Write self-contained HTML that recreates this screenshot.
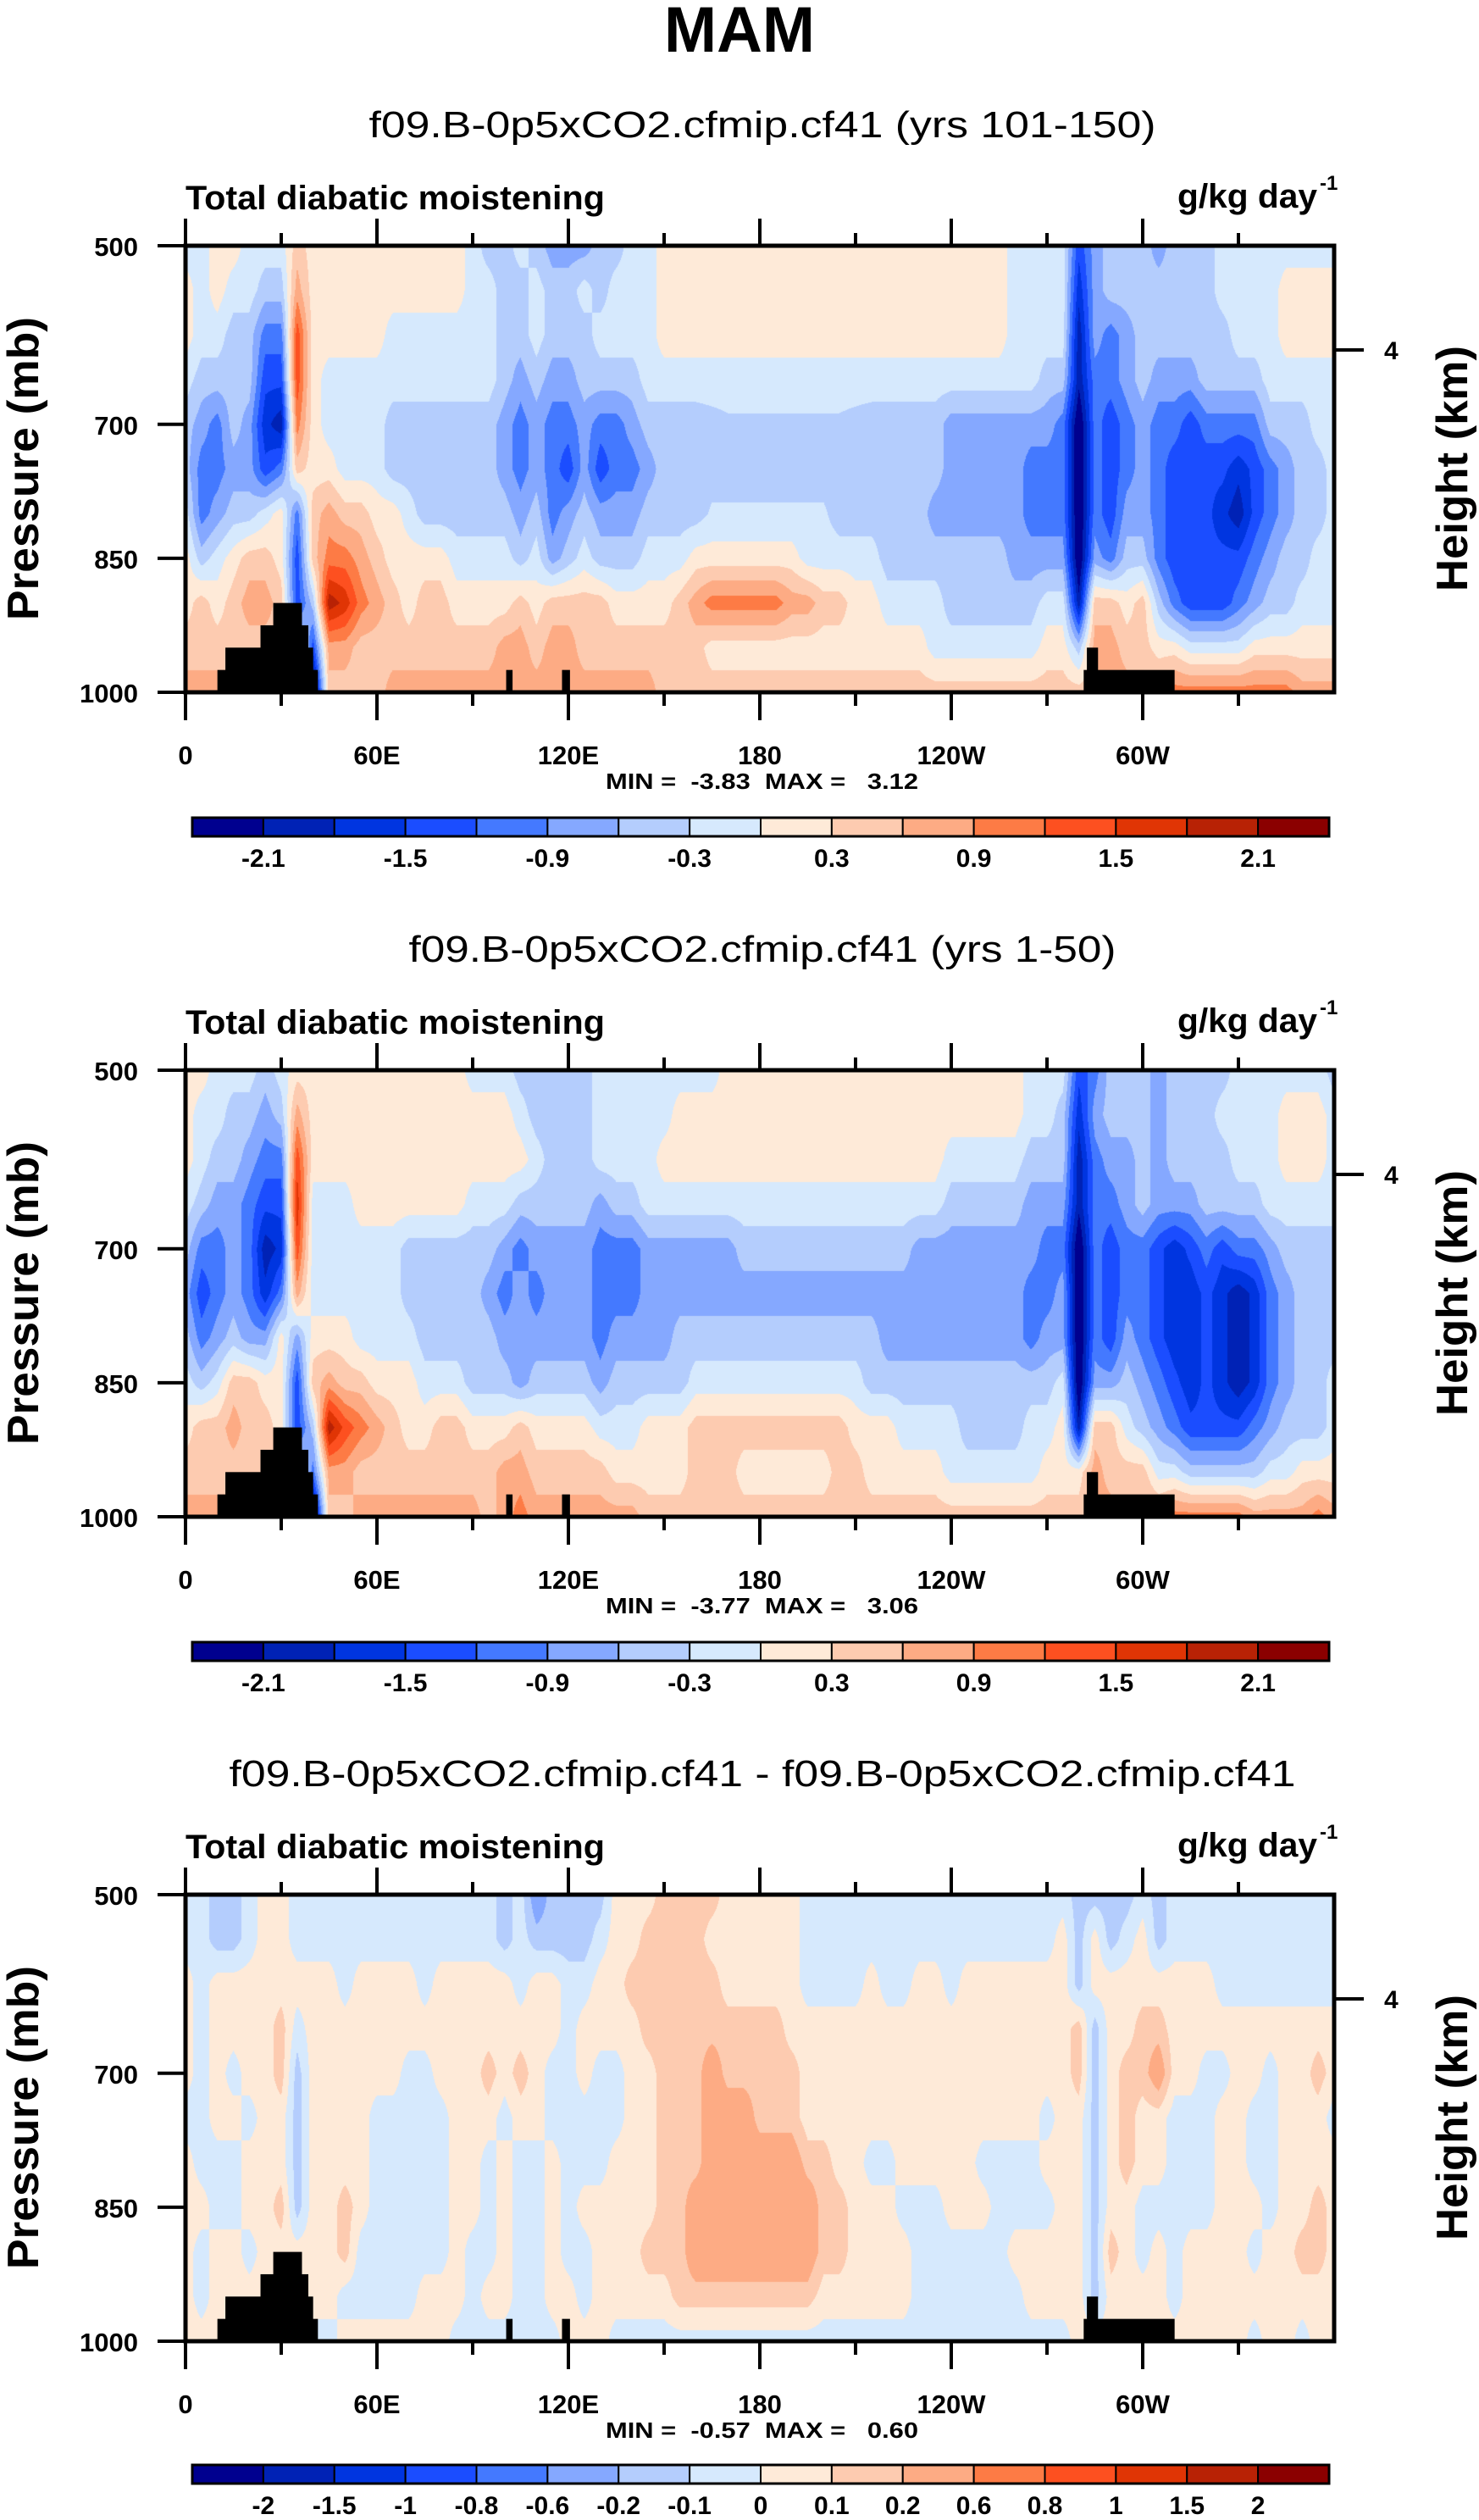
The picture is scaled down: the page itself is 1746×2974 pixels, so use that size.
<!DOCTYPE html>
<html>
<head>
<meta charset="utf-8">
<style>
html,body{margin:0;padding:0;background:#fff;}
#root{position:relative;width:1746px;height:2974px;overflow:hidden;background:#fff;}
canvas{position:absolute;}
svg{position:absolute;left:0;top:0;}
text{font-family:"Liberation Sans",Arial,sans-serif;fill:#000;}
.pre{white-space:pre;}
</style>
</head>
<body>
<div id="root">
<canvas id="cv0"></canvas>
<canvas id="cv1"></canvas>
<canvas id="cv2"></canvas>
<svg id="svg" width="1746" height="2974" xmlns="http://www.w3.org/2000/svg">
<text x="873" y="61" text-anchor="middle" font-size="76" font-weight="bold" textLength="178" lengthAdjust="spacingAndGlyphs">MAM</text>
</svg>
</div>
<script>
// ---------- axes / categories ----------
const lons = [0,5,10,15,20,25,30,35,40,45,50,55,60,65,70,75,80,85,90,95,100,105,110,115,120,125,130,135,140,145,150,155,160,165,170,175,180,185,190,195,200,205,210,215,220,225,230,235,240,245,250,255,260,265,270,275,280,285,290,295,300,305,310,315,320,325,330,335,340,345,350,355,360];
const levels = [500,550,600,650,700,750,800,850,900,950,1000];
const xTickLabels = ["0","60E","120E","180","120W","60W"];
const xTickLons = [0,60,120,180,240,300];
const yTickLabels = ["500","700","850","1000"];
const yTickValues = [500,700,850,1000];
const panelTitles = ["f09.B-0p5xCO2.cfmip.cf41 (yrs 101-150)","f09.B-0p5xCO2.cfmip.cf41 (yrs 1-50)","f09.B-0p5xCO2.cfmip.cf41 - f09.B-0p5xCO2.cfmip.cf41"];
const minVals = ["-3.83","-3.77","-0.57"];
const maxVals = ["3.12","3.06","0.60"];
const contourLevelsAbs = [-2.1,-1.8,-1.5,-1.2,-0.9,-0.6,-0.3,0,0.3,0.6,0.9,1.2,1.5,1.8,2.1];
const contourLevelsDiff = [-2,-1.5,-1,-0.8,-0.6,-0.2,-0.1,0,0.1,0.2,0.6,0.8,1,1.5,2];
const cbLabelsAbs = ["-2.1","","-1.5","","-0.9","","-0.3","","0.3","","0.9","","1.5","","2.1"];
const cbLabelsDiff = ["-2","-1.5","-1","-0.8","-0.6","-0.2","-0.1","0","0.1","0.2","0.6","0.8","1","1.5","2"];
// topography blocks: [lon start, lon end, top pressure]
const topoBlocks = [[10,41.5,975],[12.5,40,950],[23.5,38.5,925],[27.5,36.5,900],[100.5,102.5,975],[118,120.5,975],[281.5,310,975],[282.5,286,950]];

// ---------- panel 1 (yrs 101-150), rows = pressure levels, cols = lons ----------
const panel1 = [
[-0.15,-0.15,0.15,0.15,-0.15,-0.15,-0.15,0.45,0.15,0.15, 0.15,0.15,0.15,0.15,0.15,0.15,0.15,0.15,-0.15,-0.45, -0.45,-0.15,-0.45,-0.75,-0.75,-0.75,-0.45,-0.45,-0.15,-0.15, 0.15,0.15,0.15,0.15,0.15,0.15,0.15,0.15,0.15,0.15, 0.15,0.15,0.15,0.15,0.15,0.15,0.15,0.15,0.15,0.15, 0.15,0.15,-0.15,-0.15,-0.15,-0.15,-1.4,-0.75,-0.45,-0.45, -0.45,-0.75,-0.45,-0.45,-0.45,-0.15,-0.15,-0.15,-0.15,-0.15, -0.15,-0.15,-0.15],
[0.15,-0.15,0.15,-0.15,-0.15,-0.45,-0.45,0.75,0.15,0.15, 0.15,0.15,0.15,0.15,0.15,0.15,0.15,0.15,-0.15,-0.15, -0.45,-0.45,-0.15,-0.45,-0.45,-0.15,-0.45,-0.15,-0.15,-0.15, 0.15,0.15,0.15,0.15,0.15,0.15,0.15,0.15,0.15,0.15, 0.15,0.15,0.15,0.15,0.15,0.15,0.15,0.15,0.15,0.15, 0.15,0.15,-0.15,-0.15,-0.15,-0.15,-1.7,-0.75,-0.45,-0.45, -0.45,-0.45,-0.45,-0.45,-0.45,-0.15,-0.15,-0.15,-0.15,0.15, 0.15,0.15,0.15],
[0.15,-0.15,-0.15,-0.45,-0.45,-1.05,-1.05,1.4,0.15,0.15, 0.15,0.15,0.15,-0.15,-0.15,-0.15,-0.15,-0.15,-0.15,-0.15, -0.45,-0.45,-0.15,-0.45,-0.45,-0.45,-0.15,-0.15,-0.15,-0.15, 0.15,0.15,0.15,0.15,0.15,0.15,0.15,0.15,0.15,0.15, 0.15,0.15,0.15,0.15,0.15,0.15,0.15,0.15,0.15,0.15, 0.15,0.15,-0.15,-0.15,-0.15,-0.15,-2.0,-0.75,-1.05,-0.75, -0.45,-0.45,-0.45,-0.45,-0.45,-0.45,-0.15,-0.15,-0.15,0.15, 0.15,0.15,0.15],
[-0.15,-0.45,-0.45,-0.45,-0.45,-1.4,-1.4,1.4,0.15,-0.15, -0.15,-0.15,-0.15,-0.15,-0.15,-0.15,-0.15,-0.15,-0.15,-0.15, -0.45,-0.75,-0.45,-0.75,-0.75,-0.45,-0.45,-0.45,-0.45,-0.15, -0.15,-0.15,-0.15,-0.15,-0.15,-0.15,-0.15,-0.15,-0.15,-0.15, -0.15,-0.15,-0.15,-0.15,-0.15,-0.15,-0.15,-0.15,-0.15,-0.15, -0.15,-0.15,-0.15,-0.15,-0.45,-0.45,-2.0,-1.05,-1.05,-0.75, -0.45,-0.75,-0.75,-0.75,-0.45,-0.45,-0.45,-0.45,-0.15,-0.15, -0.15,-0.15,-0.15],
[-0.45,-0.75,-1.05,-0.45,-0.75,-1.7,-2.0,1.05,0.15,-0.15, -0.15,-0.15,-0.15,-0.45,-0.45,-0.45,-0.45,-0.45,-0.45,-0.45, -0.75,-1.05,-0.75,-1.05,-1.05,-0.75,-1.05,-1.05,-0.75,-0.45, -0.45,-0.45,-0.45,-0.4,-0.35,-0.35,-0.35,-0.35,-0.35,-0.35, -0.35,-0.35,-0.4,-0.45,-0.45,-0.45,-0.45,-0.45,-0.75,-0.75, -0.75,-0.75,-0.75,-0.75,-0.75,-1.05,-2.5,-1.05,-1.4,-1.05, -0.75,-1.05,-1.05,-1.4,-1.05,-1.05,-1.05,-1.05,-0.45,-0.45, -0.45,-0.15,-0.15],
[-0.45,-1.05,-1.05,-0.75,-0.75,-1.4,-1.05,0.45,0.15,0.15, -0.15,-0.15,-0.15,-0.45,-0.45,-0.45,-0.45,-0.45,-0.45,-0.45, -0.75,-1.05,-0.75,-1.05,-1.4,-0.75,-1.4,-1.05,-1.05,-0.75, -0.45,-0.45,-0.45,-0.45,-0.45,-0.45,-0.45,-0.45,-0.45,-0.45, -0.45,-0.45,-0.45,-0.45,-0.45,-0.45,-0.45,-0.45,-0.75,-0.75, -0.75,-0.75,-0.75,-1.05,-1.05,-1.05,-2.5,-1.05,-1.4,-1.05, -0.75,-1.05,-1.4,-1.4,-1.4,-1.4,-1.7,-1.4,-1.05,-0.75, -0.45,-0.45,-0.15],
[-0.15,-1.05,-0.75,-0.45,-0.45,-0.15,0.15,-1.05,0.45,0.75, 0.45,0.45,0.15,0.15,-0.15,-0.45,-0.45,-0.45,-0.45,-0.45, -0.45,-0.75,-0.45,-1.05,-0.75,-0.45,-0.75,-0.75,-0.75,-0.45, -0.45,-0.45,-0.45,-0.25,-0.25,-0.25,-0.25,-0.25,-0.25,-0.25, -0.25,-0.45,-0.45,-0.45,-0.45,-0.45,-0.45,-0.75,-0.75,-0.75, -0.75,-0.75,-0.75,-1.05,-1.05,-1.05,-2.5,-1.05,-1.4,-0.75, -0.75,-1.05,-1.4,-1.4,-1.4,-1.7,-2.0,-1.4,-1.05,-0.75, -0.45,-0.45,-0.15],
[0.15,-0.45,-0.15,0.15,0.45,0.45,0.15,-1.4,0.45,1.05, 1.05,0.75,0.45,0.15,0.15,0.15,0.15,-0.15,-0.15,-0.15, -0.15,-0.45,-0.15,-0.75,-0.45,-0.15,-0.45,-0.45,-0.45,-0.15, -0.15,-0.15,0.15,0.15,0.15,0.15,0.15,0.15,0.15,-0.15, -0.15,-0.15,-0.15,-0.15,-0.45,-0.45,-0.45,-0.45,-0.45,-0.45, -0.45,-0.45,-0.75,-0.75,-0.75,-0.75,-2.5,-0.75,-1.05,-0.45, -0.45,-1.05,-1.4,-1.4,-1.4,-1.4,-1.4,-1.05,-0.75,-0.45, -0.45,-0.15,-0.15],
[0.15,0.45,0.15,0.45,0.75,0.75,0.45,-1.4,-0.45,2.0, 1.7,1.05,0.75,0.45,0.15,0.45,0.45,0.15,0.15,0.15, 0.15,0.45,0.15,0.45,0.45,0.45,0.45,0.15,0.15,0.15, 0.15,0.45,0.75,1.05,1.05,1.05,1.05,1.05,0.75,0.75, 0.45,0.45,0.15,0.15,-0.15,-0.15,-0.15,-0.15,-0.45,-0.45, -0.45,-0.45,-0.45,-0.45,-0.15,-0.15,-2.0,0.45,0.45,0.15, 0.45,-0.45,-1.05,-1.4,-1.4,-1.4,-1.05,-0.75,-0.45,-0.45, -0.15,-0.15,-0.15],
[0.45,0.45,0.45,0.45,0.45,0.45,0.45,0.45,-1.4,0.75, 0.75,0.45,0.45,0.45,0.45,0.45,0.45,0.45,0.45,0.45, 0.75,0.75,0.45,0.75,0.75,0.45,0.45,0.45,0.45,0.45, 0.45,0.45,0.45,0.15,0.15,0.15,0.15,0.15,0.15,0.15, 0.15,0.15,0.15,0.15,0.15,0.15,0.15,-0.15,-0.15,-0.15, -0.15,-0.15,-0.15,-0.15,0.15,0.15,-0.45,0.75,0.75,0.45, 0.45,0.15,0.15,-0.15,-0.15,-0.15,-0.15,0.15,0.15,0.15, 0.15,0.15,0.15],
[0.75,0.75,0.75,0.75,0.75,0.75,0.75,0.75,-2.5,0.45, 0.45,0.45,0.45,0.75,0.75,0.75,0.75,0.75,0.75,0.75, 0.75,0.75,0.75,0.75,0.75,0.75,0.75,0.75,0.75,0.75, 0.45,0.45,0.45,0.45,0.45,0.45,0.45,0.45,0.45,0.45, 0.45,0.45,0.45,0.45,0.45,0.45,0.45,0.45,0.45,0.45, 0.45,0.45,0.45,0.45,0.45,0.45,0.45,0.45,0.75,0.75, 0.75,0.75,1.05,1.05,1.05,1.05,1.05,1.05,1.05,1.05, 0.75,0.75,0.75]
];

// ---------- panel 2 (yrs 1-50) ----------
const panel2 = [
[0.15,0.15,-0.15,-0.15,-0.15,-0.45,-0.15,0.15,0.15,0.15, 0.15,0.15,0.15,0.15,0.15,0.15,0.15,0.15,-0.15,-0.15, -0.15,-0.45,-0.45,-0.45,-0.45,-0.45,-0.15,-0.15,-0.15,-0.15, -0.15,-0.15,-0.15,-0.15,0.15,0.15,0.15,0.15,0.15,0.15, 0.15,0.15,0.15,0.15,0.15,0.15,0.15,0.15,0.15,0.15, 0.15,0.15,0.15,-0.15,-0.15,-0.15,-1.4,-1.05,-0.45,-0.45, -0.45,-0.75,-0.45,-0.45,-0.45,-0.45,-0.15,-0.15,-0.15,-0.15, -0.15,-0.15,-0.45],
[0.15,-0.15,-0.15,-0.45,-0.45,-0.75,-0.45,0.75,0.15,0.15, 0.15,0.15,0.15,0.15,0.15,0.15,0.15,0.15,0.15,0.15, 0.15,-0.15,-0.45,-0.45,-0.45,-0.45,-0.15,-0.15,-0.15,-0.15, -0.15,0.15,0.15,0.15,0.15,0.15,0.15,0.15,0.15,0.15, 0.15,0.15,0.15,0.15,0.15,0.15,0.15,0.15,0.15,0.15, 0.15,0.15,0.15,-0.15,-0.15,-0.45,-1.7,-0.75,-0.45,-0.45, -0.45,-0.75,-0.45,-0.45,-0.45,-0.15,-0.15,-0.15,-0.15,0.15, 0.15,0.15,-0.15],
[0.15,-0.15,-0.45,-0.45,-0.75,-1.05,-1.05,1.4,0.15,0.15, 0.15,0.15,0.15,0.15,0.15,0.15,0.15,0.15,0.15,0.15, 0.15,0.15,-0.15,-0.45,-0.45,-0.45,-0.15,-0.15,-0.15,-0.15, 0.15,0.15,0.15,0.15,0.15,0.15,0.15,0.15,0.15,0.15, 0.15,0.15,0.15,0.15,0.15,0.15,0.15,0.15,-0.15,-0.15, -0.15,-0.15,-0.15,-0.45,-0.45,-0.45,-2.0,-1.05,-0.75,-0.75, -0.45,-0.75,-0.45,-0.45,-0.45,-0.45,-0.15,-0.15,-0.15,0.15, 0.15,0.15,-0.15],
[-0.15,-0.45,-0.75,-0.75,-1.05,-1.4,-1.4,1.7,-0.15,-0.15, -0.15,0.15,0.15,0.15,0.15,0.15,0.15,0.15,-0.15,-0.15, -0.15,-0.45,-0.45,-0.45,-0.45,-0.45,-0.75,-0.45,-0.45,-0.15, -0.15,-0.15,-0.15,-0.15,-0.15,-0.15,-0.15,-0.15,-0.15,-0.15, -0.15,-0.15,-0.15,-0.15,-0.15,-0.15,-0.15,-0.15,-0.45,-0.45, -0.45,-0.45,-0.45,-0.75,-0.75,-0.75,-2.0,-1.05,-1.05,-0.75, -0.45,-0.75,-0.75,-0.75,-0.45,-0.45,-0.45,-0.45,-0.15,-0.15, -0.15,-0.15,-0.15],
[-0.45,-1.05,-1.05,-0.75,-1.05,-2.0,-1.7,1.4,-0.15,-0.15, -0.15,-0.15,-0.15,-0.15,-0.45,-0.45,-0.45,-0.45,-0.45,-0.45, -0.75,-1.05,-0.75,-0.75,-0.75,-0.75,-1.05,-1.05,-1.05,-0.75, -0.75,-0.75,-0.75,-0.75,-0.75,-0.45,-0.45,-0.45,-0.45,-0.45, -0.45,-0.45,-0.45,-0.45,-0.45,-0.45,-0.75,-0.75,-0.75,-0.75, -0.75,-0.75,-0.75,-0.75,-1.05,-1.05,-2.5,-1.05,-1.4,-1.05, -1.05,-1.4,-1.7,-1.4,-1.05,-1.4,-1.05,-1.05,-0.75,-0.45, -0.45,-0.45,-0.45],
[-0.75,-1.4,-1.05,-0.75,-1.05,-1.7,-1.05,0.75,-0.15,-0.15, -0.15,-0.15,-0.15,-0.15,-0.45,-0.45,-0.45,-0.45,-0.45,-0.75, -1.05,-0.75,-1.05,-0.75,-0.75,-0.75,-1.05,-1.05,-1.05,-0.75, -0.75,-0.75,-0.75,-0.75,-0.75,-0.75,-0.75,-0.75,-0.75,-0.75, -0.75,-0.75,-0.75,-0.75,-0.75,-0.75,-0.75,-0.75,-0.75,-0.75, -0.75,-0.75,-0.75,-1.05,-1.05,-0.75,-2.5,-1.05,-1.4,-1.05, -1.05,-1.4,-1.7,-1.7,-1.4,-1.7,-2.0,-1.7,-1.05,-0.75, -0.45,-0.45,-0.45],
[-0.45,-1.05,-0.75,-0.45,-0.75,-0.75,0.15,-0.75,0.15,0.15, 0.15,-0.15,-0.15,-0.15,-0.15,-0.45,-0.45,-0.45,-0.45,-0.45, -0.75,-0.75,-0.75,-0.75,-0.75,-0.75,-1.05,-0.75,-0.75,-0.75, -0.75,-0.45,-0.45,-0.45,-0.45,-0.45,-0.45,-0.45,-0.45,-0.45, -0.45,-0.45,-0.45,-0.45,-0.75,-0.75,-0.75,-0.75,-0.75,-0.75, -0.75,-0.75,-0.75,-1.05,-0.75,-0.75,-2.5,-1.05,-1.4,-0.75, -1.05,-1.4,-1.7,-1.7,-1.4,-1.7,-2.0,-1.7,-1.05,-0.75, -0.45,-0.45,-0.45],
[-0.15,-0.45,-0.15,0.45,0.45,0.15,0.15,-1.4,0.45,0.75, 0.45,0.45,0.15,0.15,0.15,-0.15,-0.15,-0.15,-0.45,-0.45, -0.45,-0.75,-0.45,-0.45,-0.45,-0.45,-0.75,-0.45,-0.45,-0.45, -0.45,-0.45,-0.15,-0.15,-0.15,-0.15,-0.15,-0.15,-0.15,-0.15, -0.15,-0.15,-0.15,-0.45,-0.45,-0.45,-0.45,-0.45,-0.45,-0.45, -0.45,-0.45,-0.45,-0.45,-0.45,-0.15,-2.5,-0.75,-0.75,-0.45, -0.75,-1.05,-1.4,-1.7,-1.4,-1.7,-2.0,-1.7,-1.05,-0.75, -0.45,-0.45,-0.15],
[0.15,0.45,0.45,0.75,0.45,0.45,0.15,-1.4,-0.45,2.0, 1.4,1.05,0.75,0.45,0.15,0.15,0.45,0.45,0.15,0.15, 0.15,0.45,0.15,0.15,0.15,0.15,-0.15,-0.15,-0.15,0.15, 0.15,0.15,0.45,0.45,0.45,0.45,0.45,0.45,0.45,0.45, 0.45,0.45,0.15,0.15,0.15,-0.15,-0.15,-0.15,-0.15,-0.45, -0.45,-0.45,-0.45,-0.15,-0.15,0.15,-2.0,0.45,0.45,-0.15, -0.45,-0.75,-1.05,-1.4,-1.4,-1.4,-1.4,-1.05,-0.75,-0.45, -0.45,-0.45,-0.15],
[0.45,0.45,0.45,0.45,0.45,0.45,0.45,0.15,-1.05,0.75, 0.75,0.45,0.45,0.45,0.45,0.45,0.45,0.45,0.45,0.45, 0.75,0.75,0.45,0.45,0.45,0.45,0.45,0.15,0.15,0.15, 0.15,0.15,0.45,0.45,0.45,0.15,0.15,0.15,0.15,0.15, 0.15,0.45,0.45,0.15,0.15,0.15,0.15,0.15,-0.15,-0.15, -0.15,-0.15,-0.15,-0.15,0.15,0.15,0.15,0.75,0.45,0.45, 0.45,-0.15,-0.15,-0.45,-0.45,-0.45,-0.45,-0.45,-0.15,-0.15, 0.15,0.15,0.15],
[0.75,0.75,0.75,0.75,0.75,0.75,0.75,0.75,-2.5,0.45, 0.45,0.75,0.75,0.75,0.75,0.75,0.75,0.75,0.75,0.45, 0.75,1.05,0.75,0.75,0.75,0.75,0.75,0.75,0.75,0.45, 0.45,0.45,0.45,0.45,0.45,0.45,0.45,0.45,0.45,0.45, 0.45,0.45,0.45,0.45,0.45,0.45,0.45,0.45,0.45,0.45, 0.45,0.45,0.45,0.45,0.45,0.45,0.45,0.75,0.75,0.75, 0.75,0.75,1.05,1.05,1.05,1.05,1.05,0.75,0.75,0.75, 0.75,1.05,0.75]
];

// ---------- panel 3 (difference) ----------
const panel3 = [
[-0.05,-0.05,-0.15,-0.15,-0.05,0.05,0.05,-0.05,-0.05,-0.05, -0.05,-0.05,-0.05,-0.05,-0.05,-0.05,-0.05,-0.05,-0.05,-0.05, -0.15,-0.05,-0.3,-0.15,-0.15,-0.15,-0.15,0.05,0.05,0.05, 0.15,0.15,0.15,0.15,0.05,0.05,0.05,0.05,0.05,-0.05, -0.05,-0.05,-0.05,-0.05,-0.05,-0.05,-0.05,-0.05,-0.05,-0.05, -0.05,-0.05,-0.05,-0.05,-0.05,-0.05,-0.15,-0.15,-0.15,-0.15, -0.05,-0.15,-0.05,-0.05,-0.05,-0.05,-0.05,-0.05,-0.05,-0.05, -0.05,-0.05,-0.05],
[-0.05,-0.05,-0.15,-0.15,-0.05,0.05,0.05,-0.05,-0.05,-0.05, -0.05,-0.05,-0.05,-0.05,-0.05,-0.05,-0.05,-0.05,-0.05,-0.05, -0.15,-0.05,-0.15,-0.15,-0.15,-0.15,-0.05,0.05,0.05,0.15, 0.15,0.15,0.15,0.05,0.05,0.05,0.05,0.05,0.05,-0.05, -0.05,-0.05,-0.05,-0.05,-0.05,-0.05,-0.05,-0.05,-0.05,-0.05, -0.05,-0.05,-0.05,-0.05,-0.05,0.05,-0.15,0.05,-0.15,-0.05, 0.05,-0.15,-0.05,-0.05,-0.05,-0.05,-0.05,-0.05,-0.05,-0.05, -0.05,-0.05,-0.05],
[0.05,-0.05,0.05,0.05,0.05,0.05,0.05,0.05,0.05,0.05, -0.05,0.05,0.05,0.05,0.05,-0.05,0.05,0.05,0.05,0.05, 0.05,-0.05,0.05,0.05,-0.05,-0.05,0.05,0.05,0.15,0.15, 0.15,0.15,0.15,0.15,0.05,0.05,0.05,0.05,0.05,-0.05, -0.05,-0.05,-0.05,0.05,-0.05,-0.05,0.05,0.05,-0.05,0.05, 0.05,0.05,0.05,0.05,0.05,0.05,-0.15,0.05,0.05,0.05, 0.05,0.05,0.05,0.05,0.05,-0.05,-0.05,-0.05,-0.05,-0.05, -0.05,-0.05,-0.05],
[0.05,-0.05,0.05,0.05,0.05,0.05,0.15,-0.05,0.05,0.05, 0.05,0.05,0.05,0.05,0.05,0.05,0.05,0.05,0.05,0.05, 0.05,0.05,0.05,0.05,-0.05,0.05,0.05,0.05,0.05,0.15, 0.15,0.15,0.15,0.15,0.15,0.15,0.15,0.15,0.05,0.05, 0.05,0.05,0.05,0.05,0.05,0.05,0.05,0.05,0.05,0.05, 0.05,0.05,0.05,0.05,0.05,0.05,0.15,-0.15,0.05,0.05, 0.15,0.15,0.05,0.05,0.05,0.05,0.05,0.05,0.05,0.05, 0.05,0.05,0.05],
[0.05,-0.05,0.05,-0.05,0.05,0.05,0.15,-0.15,0.05,0.05, 0.05,0.05,0.05,0.05,-0.05,-0.05,0.05,0.05,0.05,0.15, 0.05,0.15,0.05,-0.05,-0.05,0.05,-0.05,-0.05,0.05,0.05, 0.15,0.15,0.15,0.3,0.15,0.15,0.15,0.15,0.15,0.05, 0.05,0.05,0.05,0.05,0.05,0.05,0.05,0.05,0.05,0.05, 0.05,0.05,0.05,0.05,0.05,0.05,0.15,-0.15,0.05,0.15, 0.15,0.3,0.05,0.05,-0.05,-0.05,0.05,0.05,-0.05,0.05, 0.05,0.15,0.05],
[-0.05,-0.05,0.05,0.05,-0.05,0.05,0.05,-0.15,0.05,0.05, 0.05,0.05,-0.05,-0.05,-0.05,-0.05,-0.05,0.05,0.05,0.05, -0.05,0.05,0.05,-0.05,-0.05,-0.05,-0.05,-0.05,0.05,0.05, 0.15,0.15,0.15,0.3,0.3,0.3,0.15,0.15,0.15,0.05, 0.05,0.05,0.05,0.05,0.05,0.05,0.05,0.05,0.05,0.05, 0.05,0.05,0.05,0.05,-0.05,0.05,0.05,-0.15,0.05,0.15, 0.05,0.05,-0.05,-0.05,-0.05,0.05,0.05,-0.05,-0.05,0.05, 0.05,0.05,-0.05],
[0.05,-0.05,-0.05,-0.05,0.05,0.05,0.05,-0.15,0.05,0.05, 0.05,0.05,-0.05,-0.05,-0.05,-0.05,-0.05,0.05,0.05,-0.05, 0.05,-0.05,-0.05,0.05,-0.05,-0.05,-0.05,0.05,0.05,0.05, 0.15,0.15,0.15,0.3,0.3,0.3,0.3,0.3,0.3,0.15, 0.15,0.05,0.05,-0.05,-0.05,0.05,0.05,0.05,0.05,0.05, -0.05,-0.05,-0.05,-0.05,0.05,0.05,0.05,-0.15,0.05,0.15, 0.05,0.05,-0.05,-0.05,-0.05,0.05,0.05,-0.05,-0.05,0.05, 0.05,0.05,0.05],
[0.05,0.05,-0.05,-0.05,0.05,0.05,0.15,-0.15,0.05,0.05, 0.15,0.05,-0.05,-0.05,-0.05,-0.05,-0.05,0.05,0.05,-0.05, 0.05,-0.05,-0.05,0.05,-0.05,0.05,0.05,0.05,0.05,0.05, 0.15,0.15,0.3,0.3,0.3,0.3,0.3,0.3,0.3,0.3, 0.15,0.15,0.05,0.05,0.05,-0.05,-0.05,-0.05,0.05,0.05, 0.05,-0.05,-0.05,-0.05,-0.05,0.05,0.05,-0.15,0.05,0.05, -0.05,-0.05,-0.05,-0.05,-0.05,0.05,0.05,0.05,-0.05,0.05, 0.05,0.15,0.05],
[0.05,-0.05,0.05,0.05,-0.05,0.05,0.05,0.05,0.05,0.05, 0.15,-0.05,-0.05,-0.05,-0.05,-0.05,-0.05,0.05,-0.05,-0.05, 0.05,-0.05,-0.05,0.05,-0.05,-0.05,0.05,0.05,0.05,0.15, 0.15,0.15,0.3,0.3,0.3,0.3,0.3,0.3,0.3,0.3, 0.15,0.15,0.05,0.05,0.05,0.05,-0.05,-0.05,-0.05,-0.05, -0.05,-0.05,0.05,0.05,0.05,0.05,0.05,-0.15,0.15,0.05, -0.05,0.05,-0.05,0.05,0.05,0.05,0.05,-0.05,0.05,0.05, 0.15,0.15,0.05],
[0.05,-0.05,0.05,0.05,0.05,0.05,0.05,0.05,0.05,0.05, -0.05,-0.05,-0.05,-0.05,-0.05,0.05,0.05,0.05,-0.05,0.05, 0.05,-0.05,-0.05,0.05,0.05,-0.05,0.05,0.05,0.05,0.05, 0.05,0.15,0.15,0.15,0.15,0.15,0.15,0.15,0.15,0.15, 0.05,0.05,0.05,0.05,0.05,0.05,-0.05,-0.05,-0.05,-0.05, -0.05,-0.05,-0.05,0.05,0.05,0.05,0.05,-0.15,0.05,0.05, 0.05,0.05,-0.05,0.05,0.05,0.05,0.05,0.05,0.05,0.05, 0.05,0.05,0.05],
[0.05,0.05,0.05,0.05,0.05,0.05,0.05,0.05,-0.05,-0.05, 0.05,0.05,0.05,0.05,0.05,0.05,0.05,-0.05,-0.05,-0.05, -0.05,-0.05,-0.05,-0.05,0.05,0.05,0.05,-0.05,-0.05,-0.05, -0.05,-0.05,-0.05,-0.05,-0.05,-0.05,-0.05,-0.05,-0.05,-0.05, -0.05,-0.05,-0.05,-0.05,-0.05,-0.05,-0.05,-0.05,-0.05,-0.05, -0.05,-0.05,-0.05,-0.05,-0.05,-0.05,0.05,0.05,0.05,0.05, 0.05,0.05,0.05,0.05,0.05,0.05,0.05,-0.05,0.05,0.05, -0.05,0.05,0.05]
];

const palette = ["#00008f","#0022b5","#0035e0","#1b4dff","#4479ff","#85a8ff","#b4cdfd","#d6e9fd","#feead8","#fdcbb0","#fdab84","#fd7b45","#fd5020","#e03505","#b82205","#8b0000"];

// ---------- geometry ----------
const PX0 = 219, PX1 = 1575, PH = 527, PANEL_DY = 973, PY_FIRST = 290;
function panelTop(k){ return PY_FIRST + PANEL_DY * k; }
function xOf(lon){ return PX0 + lon / 360 * (PX1 - PX0); }
function yOf(p, k){ return panelTop(k) + (p - 500) / 500 * PH; }

function sample(grid, lon, p){
  const nI = lons.length - 1, nJ = levels.length - 1;
  let fi = lon / (lons[1] - lons[0]); let i0 = Math.min(Math.max(Math.floor(fi),0), nI - 1); const tx = fi - i0;
  let fj = (p - levels[0]) / (levels[1] - levels[0]); let j0 = Math.min(Math.max(Math.floor(fj),0), nJ - 1); const ty = fj - j0;
  const a = grid[j0][i0], b = grid[j0][i0+1], c = grid[j0+1][i0], d = grid[j0+1][i0+1];
  return (a*(1-tx)+b*tx)*(1-ty) + (c*(1-tx)+d*tx)*ty;
}
function binOf(v, lv){ let n = 0; for (const l of lv) if (v >= l) n++; return n; }
function hexRGB(h){ return [parseInt(h.slice(1,3),16),parseInt(h.slice(3,5),16),parseInt(h.slice(5,7),16)]; }
const palRGB = palette.map(hexRGB);

const grids = [panel1, panel2, panel3];
const lvls = [contourLevelsAbs, contourLevelsAbs, contourLevelsDiff];
const cbLabs = [cbLabelsAbs, cbLabelsAbs, cbLabelsDiff];

grids.forEach((g, k) => {
  const cv = document.getElementById('cv' + k);
  const w = PX1 - PX0, h = PH;
  cv.width = w; cv.height = h;
  cv.style.left = PX0 + 'px'; cv.style.top = panelTop(k) + 'px';
  const ctx = cv.getContext('2d');
  const img = ctx.createImageData(w, h);
  for (let y = 0; y < h; y++){
    const p = 500 + (y + 0.5) / h * 500;
    for (let x = 0; x < w; x++){
      const lon = (x + 0.5) / w * 360;
      const c = palRGB[binOf(sample(g, lon, p), lvls[k])];
      const o = (y * w + x) * 4;
      img.data[o] = c[0]; img.data[o+1] = c[1]; img.data[o+2] = c[2]; img.data[o+3] = 255;
    }
  }
  ctx.putImageData(img, 0, 0);
});

// ---------- SVG overlay ----------
const svg = document.getElementById('svg');
const NS = 'http://www.w3.org/2000/svg';
function mk(tag, attrs, txt){
  const e = document.createElementNS(NS, tag);
  for (const a in attrs) e.setAttribute(a, attrs[a]);
  if (txt !== undefined) e.textContent = txt;
  svg.appendChild(e);
  return e;
}

for (let k = 0; k < 3; k++){
  const T = panelTop(k), B = T + PH, off = PANEL_DY * k;

  let t = mk('text', {x: 900, y: 162 + off, 'text-anchor': 'middle', 'font-size': 44,
    textLength: [929, 835, 1259][k], lengthAdjust: 'spacingAndGlyphs'}, panelTitles[k]);
  
  

  t = mk('text', {x: PX0, y: 247 + off, 'font-size': 40, 'font-weight': 'bold', textLength: 495, lengthAdjust: 'spacingAndGlyphs'}, 'Total diabatic moistening');
  
  

  t = mk('text', {x: 1390, y: 245 + off, 'font-size': 40, 'font-weight': 'bold', textLength: 165, lengthAdjust: 'spacingAndGlyphs'}, 'g/kg day');
  
  
  t = mk('text', {x: 1558, y: 224 + off, 'font-size': 24, 'font-weight': 'bold'}, '-1');
  
  

  // topography
  topoBlocks.forEach(bk => {
    const r = mk('rect', {x: xOf(bk[0]), y: yOf(bk[2], k), width: xOf(bk[1]) - xOf(bk[0]), height: yOf(1000, k) - yOf(bk[2], k), fill: '#000'});
    
    
  });

  // frame
  const fr = mk('rect', {x: PX0, y: T, width: PX1 - PX0, height: PH, fill: 'none', stroke: '#000', 'stroke-width': 5});
  
  

  // x ticks top & bottom
  for (let lon = 0; lon < 360; lon += 30){
    const major = lon % 60 === 0;
    const x = xOf(lon);
    let ln = mk('line', {x1: x, x2: x, y1: T, y2: T - (major ? 32 : 15), stroke: '#000', 'stroke-width': 4});
    
    
    ln = mk('line', {x1: x, x2: x, y1: B, y2: B + (major ? 33 : 16), stroke: '#000', 'stroke-width': 4});
    
    
  }
  xTickLons.forEach((lon, i) => {
    const tx = mk('text', {x: xOf(lon), y: B + 85, 'text-anchor': 'middle', 'font-size': 31, 'font-weight': 'bold'}, xTickLabels[i]);
    
    
  });

  // y ticks
  yTickValues.forEach((p, i) => {
    const y = yOf(p, k);
    const ln = mk('line', {x1: 186, x2: PX0, y1: y, y2: y, stroke: '#000', 'stroke-width': 4});
    
    
    const tx = mk('text', {x: 163, y: y + 12, 'text-anchor': 'end', 'font-size': 31, 'font-weight': 'bold'}, yTickLabels[i]);
    
    
  });

  // right height axis
  const y4 = T + 123;
  let rl = mk('line', {x1: PX1, x2: 1610, y1: y4, y2: y4, stroke: '#000', 'stroke-width': 4});
  
  
  rl = mk('text', {x: 1634, y: y4 + 11, 'font-size': 30, 'font-weight': 'bold'}, '4');
  
  

  // axis titles
  let at = mk('text', {x: 0, y: 0, 'font-size': 52, 'font-weight': 'bold', textLength: 358, lengthAdjust: 'spacingAndGlyphs',
    transform: 'translate(45,' + (732 + off) + ') rotate(-90)'}, 'Pressure (mb)');
  
  
  at = mk('text', {x: 0, y: 0, 'font-size': 52, 'font-weight': 'bold', textLength: 290, lengthAdjust: 'spacingAndGlyphs',
    transform: 'translate(1732,' + (698 + off) + ') rotate(-90)'}, 'Height (km)');
  
  

  // min/max
  at = mk('text', {x: 715, y: 931 + off, 'font-size': 26, 'font-weight': 'bold', textLength: 369, lengthAdjust: 'spacingAndGlyphs', 'class': 'pre'},
    'MIN =  ' + minVals[k] + '  MAX =   ' + maxVals[k]);
  
  

  // colorbar
  const cbL = 227, cbR = 1569, cbT = 965 + off - (k === 2 ? 2 : 0), cbH = 22;
  const bw = (cbR - cbL) / palette.length;
  palette.forEach((c, i) => {
    const r = mk('rect', {x: cbL + i * bw, y: cbT, width: bw, height: cbH, fill: c, stroke: '#000', 'stroke-width': 2});
    
    
  });
  const cbo = mk('rect', {x: cbL, y: cbT, width: cbR - cbL, height: cbH, fill: 'none', stroke: '#000', 'stroke-width': 3});
  
  
  cbLabs[k].forEach((lab, i) => {
    if (!lab) return;
    const tx = mk('text', {x: cbL + (i + 1) * bw, y: cbT + 58, 'text-anchor': 'middle', 'font-size': 30, 'font-weight': 'bold'}, lab);
    
    
  });
}
</script>
</body>
</html>
